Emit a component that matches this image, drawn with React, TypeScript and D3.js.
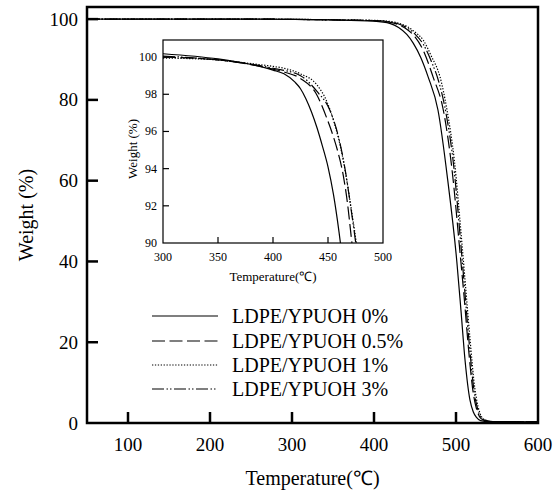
import React from "react";
import * as d3 from "d3";

// ---- Data (main panel) ----
const seriesNames = ["LDPE/YPUOH 0%", "LDPE/YPUOH 0.5%", "LDPE/YPUOH 1%", "LDPE/YPUOH 3%"];

const mainTemp0 = [50, 250, 350, 400, 420, 430, 440, 448, 457, 466, 478, 490, 501, 506, 511, 517, 521, 525, 530, 540, 600];
const mainW0 = [100, 100, 99.8, 99.5, 98.9, 97.9, 96.2, 94.0, 90.5, 85.7, 77.5, 60, 40, 28, 15.6, 5.7, 2.8, 1.4, 0.6, 0.35, 0.3];

const mainTemp05 = [50, 250, 350, 400, 420, 430, 440, 450, 460, 472, 484.5, 495, 505, 510, 515, 521, 525, 530, 535, 545, 600];
const mainW05 = [100, 100, 99.8, 99.6, 99.2, 98.6, 97.5, 95.6, 92.3, 85.7, 77.5, 63, 42, 31, 19, 7.5, 3.5, 1.2, 0.6, 0.35, 0.3];

const mainTemp1 = [50, 250, 350, 400, 420, 430, 440, 450, 460, 470, 480.5, 489, 498, 507, 512, 517, 523, 527, 531, 536, 545, 600];
const mainW1 = [100, 100, 99.85, 99.7, 99.4, 99.0, 98.2, 96.8, 94.8, 90.8, 85.7, 77.5, 65, 45, 33, 21, 8.5, 4, 1.6, 0.7, 0.35, 0.3];

const mainTemp3 = [50, 250, 350, 400, 420, 430, 440, 450, 460, 470, 479, 488, 497, 506, 511, 516, 522, 526, 530, 535, 545, 600];
const mainW3 = [100, 100, 99.8, 99.65, 99.3, 98.8, 97.9, 96.3, 93.8, 89.5, 84.5, 76.5, 64, 44, 32, 20, 8, 3.8, 1.5, 0.7, 0.35, 0.3];

// ---- Data (inset) ----
const insetTemp0 = [300, 350, 380, 400, 410, 420, 425, 430, 435, 440, 445, 450, 455, 460, 463];
const insetW0 = [100.18, 99.9, 99.6, 99.3, 99.1, 98.65, 98.3, 97.75, 97.05, 96.2, 95.2, 94.1, 92.6, 90.6, 89.2];

const insetTemp05 = [300, 350, 380, 400, 410, 425, 440, 449, 455, 459, 464, 468, 471, 474];
const insetW05 = [100.0, 99.85, 99.6, 99.35, 99.2, 98.85, 97.95, 96.7, 95.7, 94.9, 93.6, 92.0, 90.4, 88.8];

const insetTemp1 = [300, 350, 380, 400, 410, 425, 440, 449, 456, 462, 467, 472, 476, 479];
const insetW1 = [99.95, 99.85, 99.65, 99.5, 99.4, 99.1, 98.5, 97.6, 96.4, 95.0, 93.4, 91.5, 89.9, 88.5];

const insetTemp3 = [300, 350, 380, 400, 425, 440, 452, 460, 466, 471, 475, 478];
const insetW3 = [100.05, 99.85, 99.62, 99.4, 99.0, 98.15, 97.1, 95.6, 93.8, 91.8, 90.1, 88.6];

// ---- Ticks ----
const mainXTicks = [100, 200, 300, 400, 500, 600];
const mainYTicks = [0, 20, 40, 60, 80, 100];
const insetXTicks = [300, 350, 400, 450, 500];
const insetYTicks = [90, 92, 94, 96, 98, 100];

const dashes = ["none", "13 4.5", "1.3 1.6", "12 2.5 1.5 2 1.5 2.5"];

const FONT = "'Liberation Serif', 'Times New Roman', serif";

export default function App() {
  const W = 559, H = 495;
  // main
  const mL = 87, mR = 538, mT = 7, mB = 423;
  const x = d3.scaleLinear().domain([50, 600]).range([mL, mR]);
  const y = d3.scaleLinear().domain([0, 103]).range([mB, mT]);
  // inset
  const iL = 163, iR = 383, iT = 40, iB = 243;
  const ix = d3.scaleLinear().domain([300, 500]).range([iL, iR]);
  const iy = d3.scaleLinear().domain([90, 100.92]).range([iB, iT]);

  const mainData = [
    [mainTemp0, mainW0],
    [mainTemp05, mainW05],
    [mainTemp1, mainW1],
    [mainTemp3, mainW3],
  ];
  const insetData = [
    [insetTemp0, insetW0],
    [insetTemp05, insetW05],
    [insetTemp1, insetW1],
    [insetTemp3, insetW3],
  ];

  const mainLine = d3
    .line<[number, number]>()
    .x((d) => x(d[0]))
    .y((d) => y(d[1]))
    .curve(d3.curveMonotoneX);
  const insetLine = d3
    .line<[number, number]>()
    .x((d) => ix(d[0]))
    .y((d) => iy(d[1]))
    .curve(d3.curveMonotoneX);

  const zip = (a: number[], b: number[]) => a.map((v, i) => [v, b[i]] as [number, number]);

  const legendY = [316, 341, 365, 389];

  return (
    <svg
      width={W}
      height={H}
      style={{ position: "absolute", left: 0, top: 0, background: "#fff" }}
      fontFamily={FONT}
    >
      <rect x={0} y={0} width={W} height={H} fill="#fff" />
      <defs>
        <clipPath id="mainClip">
          <rect x={mL} y={mT} width={mR - mL} height={mB - mT} />
        </clipPath>
        <clipPath id="insetClip">
          <rect x={iL} y={iT} width={iR - iL} height={iB - iT} />
        </clipPath>
      </defs>

      {/* main curves */}
      <g clipPath="url(#mainClip)">
        {mainData.map(([t, w], i) => (
          <path
            key={i}
            d={mainLine(zip(t, w)) || ""}
            fill="none"
            stroke="#000"
            strokeWidth={1.2}
            strokeDasharray={dashes[i]}
          />
        ))}
      </g>

      {/* main frame */}
      <rect x={mL} y={mT} width={mR - mL} height={mB - mT} fill="none" stroke="#000" strokeWidth={2.5} />

      {/* main ticks */}
      {mainXTicks.map((t) => (
        <g key={"mx" + t}>
          {t < 600 && <line x1={x(t)} x2={x(t)} y1={mB} y2={mB - 11} stroke="#000" strokeWidth={2.5} />}
          <text x={x(t)} y={mB + 28} fontSize={19} textAnchor="middle">
            {t}
          </text>
        </g>
      ))}
      {mainYTicks.map((v) => (
        <g key={"my" + v}>
          {v > 0 && <line x1={mL} x2={mL + 11} y1={y(v)} y2={y(v)} stroke="#000" strokeWidth={2.5} />}
          <text x={78} y={y(v) + 6.5} fontSize={19} textAnchor="end">
            {v}
          </text>
        </g>
      ))}
      <text x={(mL + mR) / 2} y={485} fontSize={20} textAnchor="middle">
        Temperature(℃)
      </text>
      <text
        transform={`translate(33, ${(mT + mB) / 2}) rotate(-90)`}
        fontSize={20}
        textAnchor="middle"
      >
        Weight (%)
      </text>

      {/* inset */}
      <rect x={iL} y={iT} width={iR - iL} height={iB - iT} fill="#fff" />
      <g clipPath="url(#insetClip)">
        {insetData.map(([t, w], i) => (
          <path
            key={i}
            d={insetLine(zip(t, w)) || ""}
            fill="none"
            stroke="#000"
            strokeWidth={1.2}
            strokeDasharray={dashes[i]}
          />
        ))}
      </g>
      <rect x={iL} y={iT} width={iR - iL} height={iB - iT} fill="none" stroke="#000" strokeWidth={1.2} />
      {insetXTicks.map((t) => (
        <g key={"ix" + t}>
          {t > 300 && t < 500 && (
            <line x1={ix(t)} x2={ix(t)} y1={iB} y2={iB - 6} stroke="#000" strokeWidth={1.2} />
          )}
          <text x={ix(t)} y={iB + 18} fontSize={12} textAnchor="middle">
            {t}
          </text>
        </g>
      ))}
      {insetYTicks.map((v) => (
        <g key={"iy" + v}>
          {v > 90 && <line x1={iL} x2={iL + 6} y1={iy(v)} y2={iy(v)} stroke="#000" strokeWidth={1.2} />}
          <text x={157} y={iy(v) + 4} fontSize={12} textAnchor="end">
            {v}
          </text>
        </g>
      ))}
      <text x={(iL + iR) / 2} y={281} fontSize={13} textAnchor="middle">
        Temperature(℃)
      </text>
      <text transform={`translate(137, 149) rotate(-90)`} fontSize={13} textAnchor="middle">
        Weight (%)
      </text>

      {/* legend */}
      {seriesNames.map((name, i) => (
        <g key={name}>
          <line
            x1={152}
            x2={218}
            y1={legendY[i]}
            y2={legendY[i]}
            stroke="#000"
            strokeWidth={1.2}
            strokeDasharray={dashes[i]}
          />
          <text x={232} y={legendY[i] + 6.5} fontSize={20}>
            {name}
          </text>
        </g>
      ))}
    </svg>
  );
}
